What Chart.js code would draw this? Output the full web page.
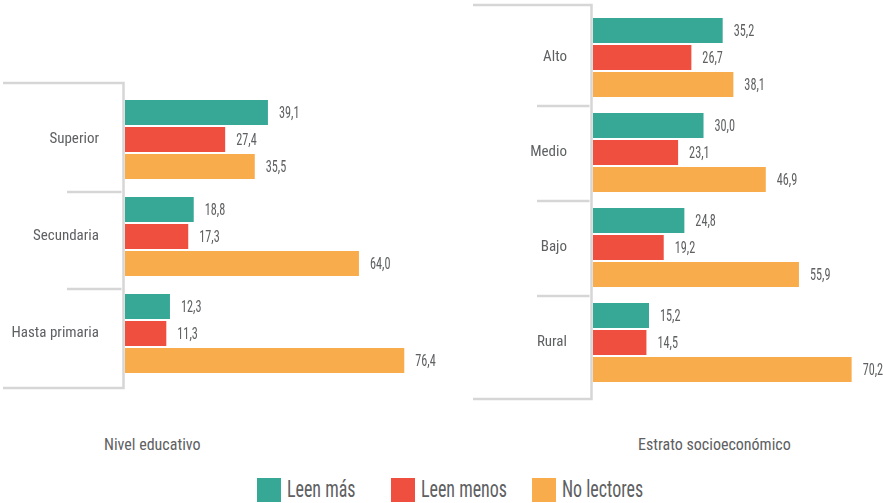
<!DOCTYPE html>
<html>
<head>
<meta charset="utf-8">
<script src="https://cdn.jsdelivr.net/npm/chart.js@4.4.1/dist/chart.umd.min.js"></script>
<style>
  body { margin: 0; background: #fff; }
  #wrap { position: relative; width: 883px; height: 503px; overflow: hidden;
          font-family: "Roboto Condensed", "DejaVu Sans Condensed", sans-serif; color: #5e6062; }
  .box { position: absolute; }
  .axis-title { position: absolute; font-size: 16px; line-height: 20px; top: 435px; white-space: nowrap; }
  #legend { position: absolute; top: 478px; left: 0; width: 883px; height: 25px; }
  .leg-item { position: absolute; top: 0; height: 24px; white-space: nowrap; }
  .leg-sw { display: inline-block; width: 24px; height: 24px; vertical-align: top; }
  .leg-txt { display: inline-block; vertical-align: top; font-size: 23px; line-height: 24px; margin-left: 6px;
             transform: scaleX(0.78); transform-origin: 0 50%; color: #5e6062; }
</style>
</head>
<body>
<div id="wrap">
  <div class="box" style="left:0;top:0;width:465px;height:400px"><canvas id="eduChart"></canvas></div>
  <div class="box" style="left:465px;top:0;width:418px;height:410px"><canvas id="estChart"></canvas></div>
  <div class="axis-title" style="left:104px">Nivel educativo</div>
  <div class="axis-title" style="left:638px">Estrato socioeconómico</div>
  <div id="legend"></div>
</div>
<script>
// series
const seriesNames = ['Leen más', 'Leen menos', 'No lectores'];
const seriesColors = ['#37a796', '#ef4f3e', '#f9ac4b'];

// Nivel educativo
const eduCategories = ['Superior', 'Secundaria', 'Hasta primaria'];
const eduLeenMas = [39.1, 18.8, 12.3];
const eduLeenMenos = [27.4, 17.3, 11.3];
const eduNoLectores = [35.5, 64.0, 76.4];

// Estrato socioeconómico
const estCategories = ['Alto', 'Medio', 'Bajo', 'Rural'];
const estLeenMas = [35.2, 30.0, 24.8, 15.2];
const estLeenMenos = [26.7, 23.1, 19.2, 14.5];
const estNoLectores = [38.1, 46.9, 55.9, 70.2];

const FONT = '"Roboto Condensed", "DejaVu Sans Condensed", sans-serif';
const TEXT = '#5e6062';

// value labels at the end of each bar (narrow, like the original font)
const valueLabels = {
    id: 'valueLabels',
    afterDatasetsDraw(chart) {
        const ctx = chart.ctx;
        chart.data.datasets.forEach((ds, i) => {
            chart.getDatasetMeta(i).data.forEach((bar, j) => {
                ctx.save();
                ctx.font = '17px ' + FONT;
                ctx.fillStyle = TEXT;
                ctx.textAlign = 'left';
                ctx.textBaseline = 'middle';
                ctx.translate(bar.x + 11, bar.y + 1);
                ctx.scale(0.72, 1);
                ctx.fillText(ds.data[j].toFixed(1).replace('.', ','), 0, 0);
                ctx.restore();
            });
        });
    }
};

// grey bracket lines round the category labels
const bracket = {
    id: 'bracket',
    afterDraw(chart, args, o) {
        const ctx = chart.ctx;
        const area = chart.chartArea;
        const y = chart.scales.y;
        const n = chart.data.labels.length;
        const top = area.top - o.topExt;
        const bottom = area.bottom + o.bottomExt;
        const vx = area.left - 1.5;
        ctx.save();
        ctx.strokeStyle = '#d6d6d6';
        ctx.lineWidth = 2.5;
        ctx.beginPath();
        ctx.moveTo(o.outerLeft, top);
        ctx.lineTo(vx, top);
        ctx.lineTo(vx, bottom);
        ctx.lineTo(o.outerLeft, bottom);
        for (let i = 0; i < n - 1; i++) {
            const sy = (y.getPixelForValue(i) + y.getPixelForValue(i + 1)) / 2 + o.sepShift;
            ctx.moveTo(o.sepLeft, sy);
            ctx.lineTo(vx - 2, sy);
        }
        ctx.stroke();
        ctx.restore();
    }
};

function makeChart(id, labels, a, b, c, cfg) {
    return new Chart(document.getElementById(id), {
        type: 'bar',
        data: {
            labels: labels,
            datasets: [a, b, c].map((d, i) => ({
                label: seriesNames[i],
                data: d,
                backgroundColor: seriesColors[i],
                categoryPercentage: cfg.catPct,
                barPercentage: 0.926
            }))
        },
        options: {
            indexAxis: 'y',
            responsive: true,
            maintainAspectRatio: false,
            animation: false,
            layout: { padding: cfg.padding },
            plugins: {
                legend: { display: false },
                tooltip: { enabled: false },
                bracket: cfg.bracket
            },
            scales: {
                x: { display: false, min: 0, max: cfg.xMax },
                y: {
                    grid: { display: false },
                    border: { display: false },
                    ticks: { font: { family: FONT, size: 15 }, color: TEXT, padding: 18 },
                    afterFit(scale) {
                        scale.width = cfg.axisWidth;
                        scale.paddingTop = 0;
                        scale.paddingBottom = 0;
                    }
                }
            }
        },
        plugins: [valueLabels, bracket]
    });
}

makeChart('eduChart', eduCategories, eduLeenMas, eduLeenMenos, eduNoLectores, {
    catPct: 0.835,
    xMax: 90,
    axisWidth: 125,
    padding: { top: 91, bottom: 18, right: 11, left: 0 },
    bracket: { topExt: 8, bottomExt: 6, outerLeft: 3, sepLeft: 67, sepShift: 4 }
});

makeChart('estChart', estCategories, estLeenMas, estLeenMenos, estNoLectores, {
    catPct: 0.853,
    xMax: 76,
    axisWidth: 128,
    padding: { top: 10, bottom: 20, right: 10, left: 0 },
    bracket: { topExt: 5, bottomExt: 9, outerLeft: 8, sepLeft: 72, sepShift: 1 }
});

// shared legend
const legendLeft = [257, 391, 532];
const legend = document.getElementById('legend');
seriesNames.forEach((name, i) => {
    const item = document.createElement('div');
    item.className = 'leg-item';
    item.style.left = legendLeft[i] + 'px';
    item.innerHTML = '<span class="leg-sw" style="background:' + seriesColors[i] + '"></span>' +
        '<span class="leg-txt">' + name + '</span>';
    legend.appendChild(item);
});
</script>
</body>
</html>
